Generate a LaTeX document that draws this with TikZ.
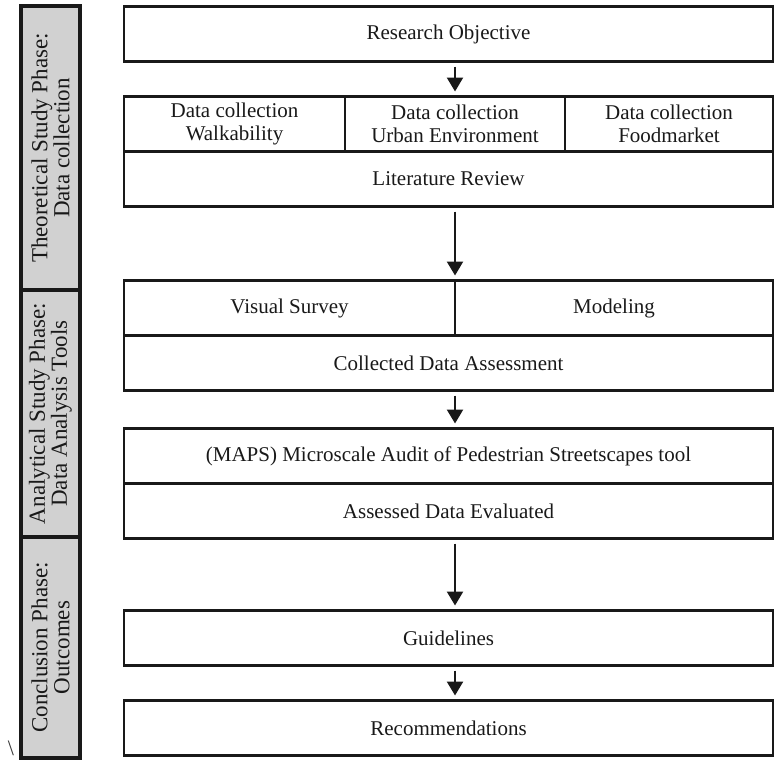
\documentclass[tikz,border=0pt]{standalone}
\usepackage{fontspec}
\setmainfont{Liberation Serif}
\usetikzlibrary{arrows.meta, positioning}

\begin{document}
\begin{tikzpicture}[
    x=1pt, y=1pt,
    node distance=17.5pt,
    cell/.style={rectangle, draw=black!90, line width=1.4pt, minimum height=27.5pt, inner sep=0pt, outer sep=0pt, align=center, text=black!90, font=\fontsize{10.5}{11.5}\selectfont},
    phase/.style={rectangle, draw=black!90, line width=1.8pt, fill=black!18, minimum height=29.5pt, inner sep=0pt, outer sep=0pt, align=center, rotate=90, text=black!90, font=\fontsize{11.5}{11}\selectfont},
    arrow/.style={-{Triangle[width=8pt,length=7pt]}, line width=1.2pt, black!90, shorten <=2.5pt, shorten >=2.5pt},
]
\useasboundingbox (0,0) rectangle (387,-380);

% Phase bars on the left
\node[phase, minimum width=142pt]   (theo)  at (25.2,-74)     {Theoretical Study Phase:\\Data collection};
\node[phase, minimum width=123.5pt] (anal)  at (25.2,-206.75) {Analytical Study Phase:\\Data Analysis Tools};
\node[phase, minimum width=110.5pt] (concl) at (25.2,-323.75) {Conclusion Phase:\\Outcomes};
\node[inner sep=0pt, text=black!80, font=\fontsize{11}{11}\selectfont] (slash) at (5.5,-374) {\textbackslash};

% Main column
\node[cell, minimum width=324.5pt] (obj) at (224.25,-17) {Research Objective};
\node[cell, minimum width=110.5pt, below right=17.5pt and 0pt of obj.south west] (walk) {Data collection\\Walkability};
\node[cell, minimum width=110pt, right=0pt of walk]  (urban) {Data collection\\Urban Environment};
\node[cell, minimum width=104pt, right=0pt of urban] (food)  {Data collection\\Foodmarket};
\node[cell, minimum width=324.5pt, below right=0pt and 0pt of walk.south west] (lit) {Literature Review};

\node[cell, minimum width=165.5pt, below right=37pt and 0pt of lit.south west] (survey) {Visual Survey};
\node[cell, minimum width=159pt, right=0pt of survey] (model) {Modeling};
\node[cell, minimum width=324.5pt, below right=0pt and 0pt of survey.south west] (assess) {Collected Data Assessment};

\node[cell, minimum width=324.5pt, below=19pt of assess] (maps) {(MAPS) Microscale Audit of Pedestrian Streetscapes tool};
\node[cell, minimum width=324.5pt, below=0pt of maps]    (eval) {Assessed Data Evaluated};

\node[cell, minimum width=324.5pt, below=36pt of eval]  (guide) {Guidelines};
\node[cell, minimum width=324.5pt, below=of guide]      (recom) {Recommendations};

\draw[arrow] (obj.south -| urban)    -- (urban.north);
\draw[arrow] (lit.south -| urban)    -- (survey.north east);
\draw[arrow] (assess.south -| urban) -- (maps.north -| urban);
\draw[arrow] (eval.south -| urban)   -- (guide.north -| urban);
\draw[arrow] (guide.south -| urban)  -- (recom.north -| urban);

\end{tikzpicture}
\end{document}
